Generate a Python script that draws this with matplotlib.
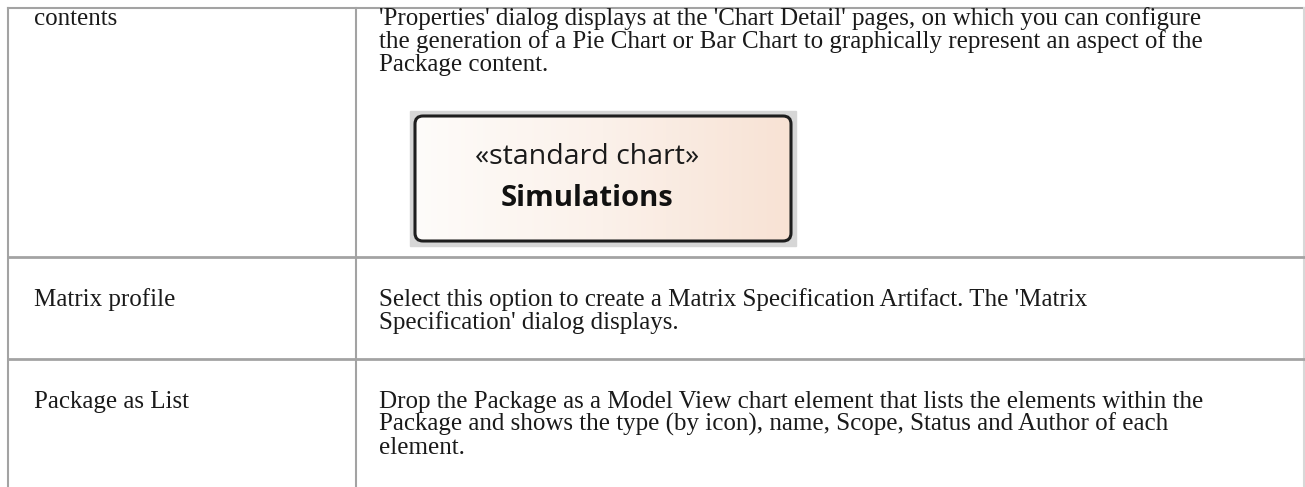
import matplotlib.pyplot as plt
import numpy as np
from matplotlib.patches import FancyBboxPatch, Rectangle
from matplotlib.colors import LinearSegmentedColormap

# table content
options = ["contents", "Matrix profile", "Package as List"]
descriptions = [
    ["'Properties' dialog displays at the 'Chart Detail' pages, on which you can configure",
     "the generation of a Pie Chart or Bar Chart to graphically represent an aspect of the",
     "Package content."],
    ["Select this option to create a Matrix Specification Artifact. The 'Matrix",
     "Specification' dialog displays."],
    ["Drop the Package as a Model View chart element that lists the elements within the",
     "Package and shows the type (by icon), name, Scope, Status and Author of each",
     "element."],
]
box_stereotype = "«standard chart»"
box_name = "Simulations"

# row layout (pixels)
row_tops = [8, 257, 359]
first_base = [25, 306, 408]
line_gap = 23

W, H = 1305, 487
fig = plt.figure(figsize=(W / 100, H / 100), dpi=100)
ax = fig.add_axes([0, 0, 1, 1])

grid = "#a3a3a3"
lw = 1.5
ax.plot([8, 1304], [7.5, 7.5], color=grid, lw=lw)
ax.plot([8, 8], [7.5, H], color=grid, lw=lw)
ax.plot([355.5, 355.5], [7.5, H], color=grid, lw=lw)
ax.plot([1304, 1304], [7.5, H], color="#d8d8d8", lw=lw)
for y in row_tops[1:]:
    ax.plot([8, 1304], [y, y], color=grid, lw=lw + 0.5)

serif = "Liberation Serif"
fs = 18
for i, name in enumerate(options):
    ax.text(34, first_base[i], name, family=serif, fontsize=fs, va="baseline", ha="left", color="#1a1a1a")
    for j, line in enumerate(descriptions[i]):
        ax.text(379, first_base[i] + j * line_gap, line, family=serif, fontsize=fs,
                va="baseline", ha="left", color="#1a1a1a")

# element box image
ax.add_patch(Rectangle((410, 111), 386, 135, color="#d6d6d6", zorder=1))
grad = np.linspace(0, 1, 256).reshape(1, -1)
cmap = LinearSegmentedColormap.from_list("peach", ["#fefcfa", "#fbf1ea", "#f8e2d4"])
im = ax.imshow(grad, cmap=cmap, extent=[413, 793, 243, 114], aspect="auto", zorder=2)
clip = FancyBboxPatch((415, 116), 376, 125, boxstyle="round,pad=0,rounding_size=8",
                      facecolor="none", edgecolor="none", transform=ax.transData)
ax.add_patch(clip)
im.set_clip_path(clip)
ax.add_patch(FancyBboxPatch((415, 116), 376, 125, boxstyle="round,pad=0,rounding_size=8",
                            facecolor="none", edgecolor="#1e1e1e", lw=2.2, zorder=4))
ax.set_xlim(0, W)
ax.set_ylim(H, 0)
ax.axis("off")

ax.text(587, 157, box_stereotype, family="Open Sans", fontsize=20.5, ha="center", va="center",
        color="#1a1a1a", zorder=5)
ax.text(587, 198, box_name, family="Open Sans", fontweight="bold", fontsize=21, ha="center",
        va="center", color="#111111", zorder=5)

fig.savefig("out.png", dpi=100)
